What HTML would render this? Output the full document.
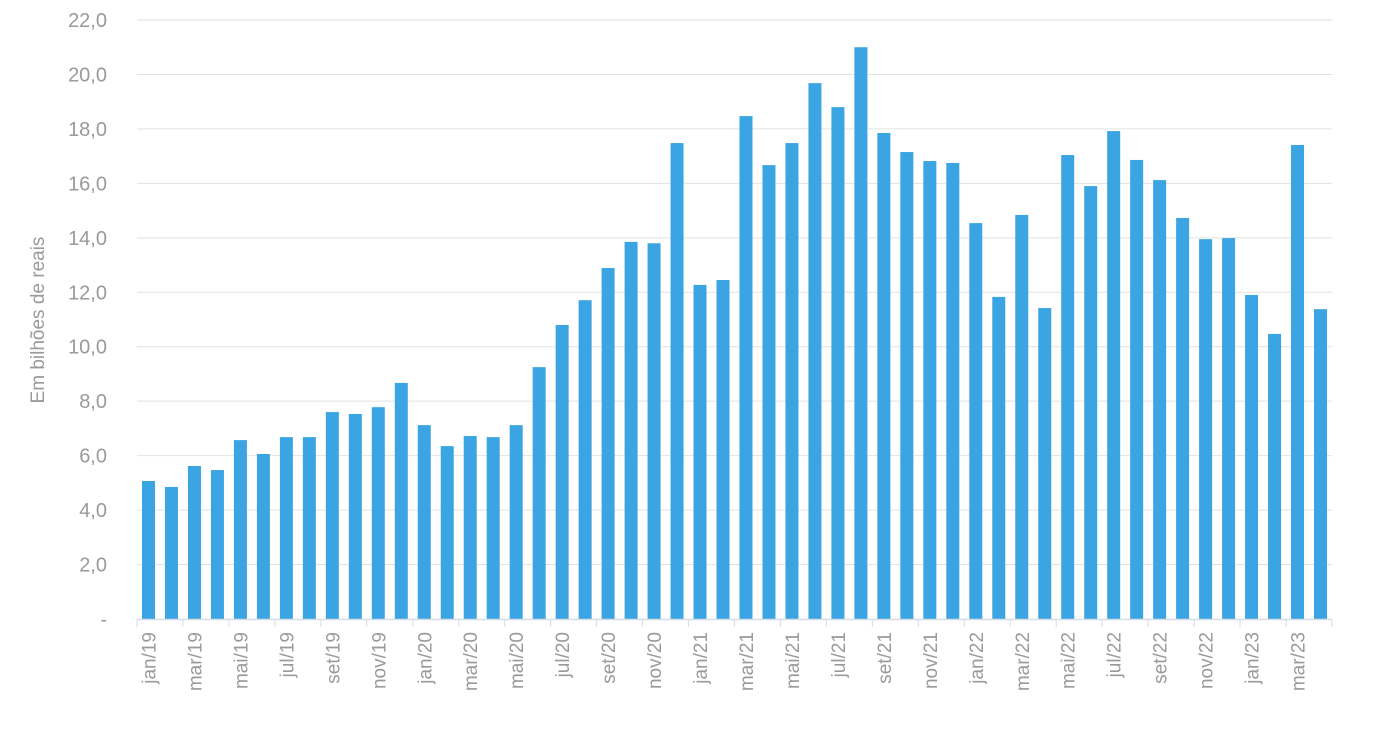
<!DOCTYPE html>
<html><head><meta charset="utf-8"><style>
body{margin:0;background:#fff;width:1393px;height:737px;overflow:hidden}
svg text{font-family:"Liberation Sans",sans-serif;fill:#9a9a9a}
</style></head><body>
<svg id="c" width="1393" height="737"></svg>
<script>
const categories=["jan/19","fev/19","mar/19","abr/19","mai/19","jun/19","jul/19","ago/19","set/19","out/19","nov/19","dez/19","jan/20","fev/20","mar/20","abr/20","mai/20","jun/20","jul/20","ago/20","set/20","out/20","nov/20","dez/20","jan/21","fev/21","mar/21","abr/21","mai/21","jun/21","jul/21","ago/21","set/21","out/21","nov/21","dez/21","jan/22","fev/22","mar/22","abr/22","mai/22","jun/22","jul/22","ago/22","set/22","out/22","nov/22","dez/22","jan/23","fev/23","mar/23","abr/23"];
const values=[5.07,4.85,5.62,5.47,6.57,6.06,6.68,6.68,7.6,7.53,7.78,8.67,7.12,6.35,6.72,6.68,7.12,9.25,10.8,11.71,12.89,13.85,13.8,17.48,12.27,12.45,18.47,16.67,17.48,19.68,18.8,21.0,17.85,17.15,16.82,16.75,14.54,11.83,14.84,11.42,17.04,15.9,17.92,16.86,16.12,14.73,13.95,13.99,11.9,10.47,17.41,11.38];
const yTicks=[0,2,4,6,8,10,12,14,16,18,20,22];
const yTickLabels=["-","2,0","4,0","6,0","8,0","10,0","12,0","14,0","16,0","18,0","20,0","22,0"];
const NS="http://www.w3.org/2000/svg",svg=document.getElementById("c");
const x0=137,x1=1332,y0=619,yTop=20,yMax=22;
const y=v=>y0-(v/yMax)*(y0-yTop);
const slot=(x1-x0)/categories.length;
const xc=i=>x0+slot*(i+0.5);
function mk(t,a){const e=document.createElementNS(NS,t);for(const k in a)e.setAttribute(k,a[k]);svg.appendChild(e);return e;}
yTicks.forEach((v,i)=>{
 if(v>0){const g=mk("line",{x1:x0,x2:x1,y1:y(v),y2:y(v),stroke:"#e2e2e2","stroke-width":1});
 
 }
 const t=mk("text",{x:107,y:y(v)+7,"text-anchor":"end","font-size":20});
 t.textContent=yTickLabels[i];
 
 
});
values.forEach((v,i)=>{
 const r=mk("rect",{x:xc(i)-6.5,y:y(v),width:13,height:y0-y(v),fill:"#3ba4e2"});
 
 
});
const ax=mk("line",{x1:x0,x2:x1,y1:y0+0.5,y2:y0+0.5,stroke:"#d6dde6","stroke-width":1.5});


for(let i=0;i<=categories.length;i+=2){
 const tk=mk("line",{x1:x0+slot*i,x2:x0+slot*i,y1:y0,y2:y0+8,stroke:"#d6dde6","stroke-width":1});
 
 
}
categories.forEach((c,i)=>{
 if(i%2)return;
 const t=mk("text",{x:0,y:0,"text-anchor":"end","font-size":19,transform:`translate(${xc(i)+7},632) rotate(-90)`});
 t.textContent=c;
 
 
});
const at=mk("text",{x:0,y:0,"text-anchor":"middle","font-size":19,transform:"translate(44,320) rotate(-90)"});
at.textContent="Em bilhões de reais";


</script>
</body></html>
